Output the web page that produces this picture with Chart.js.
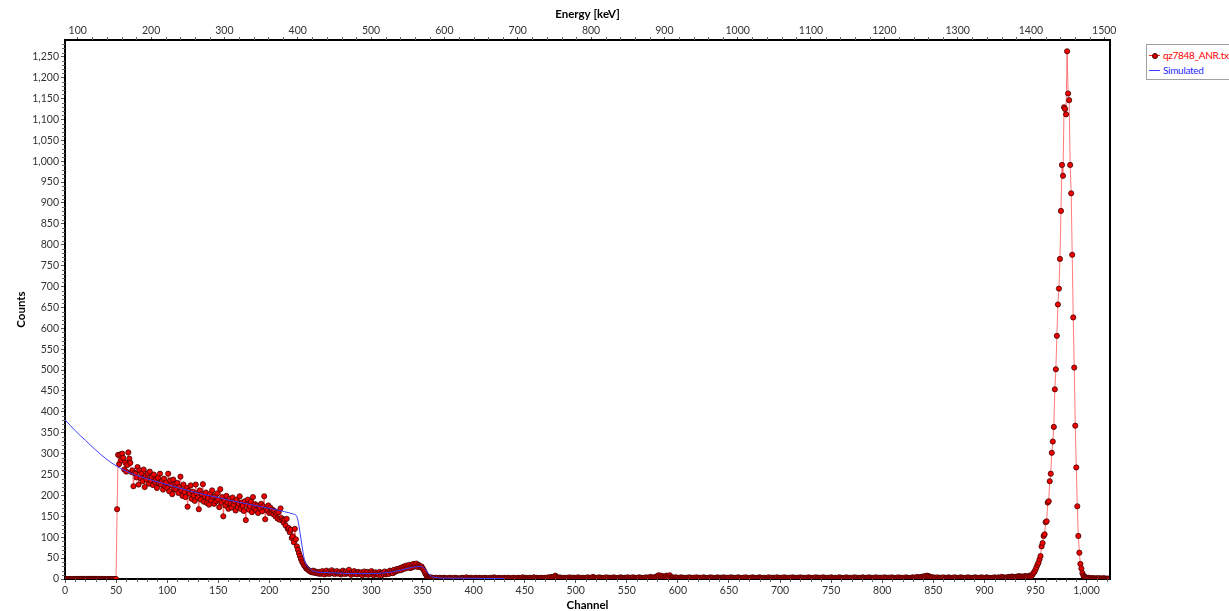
<!DOCTYPE html>
<html>
<head>
<meta charset="utf-8">
<script src="https://cdn.jsdelivr.net/npm/chart.js@4.4.1/dist/chart.umd.min.js"></script>
<style>
    body { margin: 0; background: #fff; font-family: Lato, sans-serif; }
    #wrap { position: relative; width: 1229px; height: 611px; overflow: hidden; }
    #legend { position: absolute; left: 1146px; top: 44px; width: 100px; height: 34px; border: 1px solid #a0a0a0; background: #fff; font-size: 10px; letter-spacing: -0.3px; }
    .item { position: absolute; left: 2px; height: 14px; line-height: 14px; white-space: nowrap; }
    .swatch { position: absolute; left: 0; top: 7px; width: 11px; height: 1px; }
    .dot { position: absolute; left: 3px; top: 5px; width: 4px; height: 4px; border-radius: 50%; background: #e00000; border: 1px solid #3a0000; }
    .label { position: absolute; left: 14px; top: 0; }
</style>
</head>
<body>
<div id="wrap">
    <canvas id="spectrum" width="1229" height="611"></canvas>
    <div id="legend">
        <div class="item" style="top:3px;"><div class="swatch" style="background:#ff2020;"></div><div class="dot"></div><span class="label" style="color:#ff0000;">qz7848_ANR.txt</span></div>
        <div class="item" style="top:18px;"><div class="swatch" style="background:#3c3cff;"></div><span class="label" style="color:#2828ff;">Simulated</span></div>
    </div>
</div>
<script>
const measuredCounts = [
    0, 0, 0, 0, 0, 0, 0, 0, 0, 0,
    0, 0, 0, 0, 0, 0, 0, 0, 0, 0,
    0, 0, 0, 0, 0, 0, 0, 0, 0, 0,
    0, 0, 0, 0, 0, 0, 0, 0, 0, 0,
    0, 0, 0, 0, 0, 0, 0, 0, 0, 0, 0,
    167, 297, 275, 298, 284, 300, 290, 262, 279, 257, 273, 303, 288, 278, 256, 260, 222, 254,
    252, 243, 268, 226, 260, 241, 253, 234, 262, 220, 247, 238, 253, 228, 257, 236, 244, 225, 250, 232,
    238, 218, 242, 229, 252, 226, 235, 214, 240, 222, 231, 218, 252, 210, 236, 224, 203, 238, 215, 228,
    214, 230,
    206, 220, 245, 212, 199, 226, 208, 196, 218, 173, 211, 204, 224, 192, 209, 200, 187, 226, 205, 195,
    167, 212, 190, 203, 227, 185, 198, 207, 182, 194, 178, 203, 188, 212, 196, 180, 199, 186, 205, 190,
    172, 215, 184, 196, 150, 188, 176, 199, 183, 168, 192, 180, 171, 195, 178, 186, 164, 190, 172, 181,
    198, 168, 183, 175, 163, 186, 141, 178, 190, 166, 174, 185, 160, 196, 170, 179, 165, 176, 158, 172,
    168, 180, 162, 174, 198, 143, 170, 164, 176, 158, 171, 160, 166, 155, 163, 150, 158, 145, 160, 142,
    169, 146, 140, 135, 142, 128, 144, 120, 122, 112, 118, 98, 102, 88, 120, 95, 78, 70,
    62, 55, 48, 42, 38, 33, 30, 26, 24, 22, 20, 18, 17, 16, 20, 15, 18, 14, 16, 13,
    17, 12, 15, 19, 14, 11, 16, 20, 13, 17, 12, 15, 21, 14, 18, 12, 16, 19, 13, 15,
    17, 11, 14, 20, 16, 12, 18, 13, 15, 22, 14, 10, 16, 13, 19, 12, 15, 11, 17, 14,
    12, 16, 9, 14, 18, 11, 13, 17, 10, 15, 12, 19, 14, 9, 13, 16, 11, 14, 10, 17,
    13, 9, 15, 12, 18, 11, 14, 16, 12, 20, 15, 18, 14, 22, 17, 19, 24, 20, 23, 26,
    21, 28, 24, 30, 25, 32, 27, 29, 34, 26, 31, 28, 36, 30, 33, 37, 29, 34, 31, 28,
    30, 26, 22, 17, 12, 8, 6, 4, 3, 4, 2, 3, 2, 1, 3, 2, 2, 1, 3, 2,
    2, 1, 3, 2, 1, 2, 0, 2, 3, 1, 2, 1, 2, 3, 1, 2, 1, 0, 2, 1,
    3, 2, 1, 2, 4, 1, 2, 1, 3, 2, 1, 2, 1, 3, 2, 1, 2, 3, 1, 2,
    1, 2, 3, 1, 2, 1, 2, 1, 3, 2, 1, 4, 2, 1, 2, 1, 3, 1, 2, 2,
    1, 3, 2, 1, 2, 3, 1, 2, 1, 2, 3, 1, 2, 2, 1, 3, 2, 1, 2, 4,
    2, 1, 3, 2, 1, 2, 3, 2, 1, 2, 4, 2, 1, 3, 2, 1, 2, 3, 2, 1,
    2, 3, 1, 2, 4, 2, 3, 5, 4, 3, 6, 8, 5, 3, 2, 4, 2, 3, 1, 2,
    3, 2, 1, 3, 2, 4, 2, 1, 3, 2, 3, 1, 2, 4, 2, 3, 1, 2, 3, 2,
    1, 3, 2, 4, 2, 1, 3, 2, 5, 3, 2, 1, 3, 2, 4, 2, 3, 1, 2, 3,
    2, 4, 1, 3, 2, 3, 2, 1, 4, 2, 3, 2, 1, 3, 2, 4, 3, 2, 1, 3,
    2, 3, 4, 2, 1, 3, 2, 4, 2, 3, 1, 2, 3, 4, 2, 3, 2, 1, 3, 2,
    4, 2, 3, 2, 5, 3, 4, 2, 3, 5, 4, 7, 9, 6, 8, 5, 7, 4, 6, 5,
    8, 6, 4, 9, 5, 3, 4, 2, 3, 4, 2, 3, 1, 2, 4, 3, 2, 3, 1, 2,
    3, 2, 4, 2, 3, 1, 2, 3, 2, 4, 1, 3, 2, 3, 2, 1, 4, 2, 3, 2,
    1, 3, 2, 4, 2, 3, 1, 2, 3, 2, 4, 2, 1, 3, 2, 3, 4, 2, 1, 3,
    2, 3, 1, 4, 2, 3, 2, 1, 3, 2, 4, 3, 2, 1, 2, 3, 2, 4, 1, 3,
    2, 1, 3, 2, 4, 2, 3, 1, 2, 3, 2, 4, 3, 2, 1, 3, 2, 1, 3, 2,
    4, 2, 1, 3, 2, 3, 1, 2, 4, 2, 3, 2, 1, 3, 2, 4, 2, 3, 1, 2,
    3, 2, 1, 4, 2, 3, 2, 1, 3, 2, 3, 4, 2, 1, 3, 2, 2, 3, 1, 4,
    2, 3, 1, 2, 3, 2, 4, 1, 3, 2, 3, 2, 1, 4, 2, 3, 2, 1, 3, 2,
    2, 4, 3, 1, 2, 3, 2, 1, 3, 4, 2, 3, 1, 2, 3, 2, 4, 2, 1, 3,
    2, 1, 3, 2, 4, 2, 3, 1, 2, 3, 2, 1, 4, 3, 2, 1, 3, 2, 4, 2,
    3, 1, 2, 3, 2, 4, 2, 1, 3, 2, 3, 2, 1, 4, 2, 3, 2, 3, 1, 2,
    4, 2, 3, 1, 2, 3, 2, 4, 1, 3, 2, 3, 1, 2, 4, 2, 3, 2, 1, 3,
    2, 4, 3, 2, 3, 5, 2, 4, 3, 5, 4, 6, 5, 7, 6, 8, 7, 6, 5, 4,
    3, 4, 2, 3, 2, 4, 1, 3, 2, 3, 2, 4, 1, 2, 3, 2, 4, 3, 2, 1,
    3, 2, 4, 2, 3, 1, 2, 3, 4, 2, 3, 2, 1, 3, 2, 4, 2, 3, 1, 2,
    3, 2, 4, 3, 2, 1, 3, 2, 4, 2, 3, 1, 2, 4, 3, 2, 3, 1, 2, 3,
    2, 4, 3, 2, 3, 4, 2, 3, 5, 3, 4, 2, 3, 4, 3, 5, 4, 3, 6, 5,
    3, 5, 4, 6, 5, 7, 5, 6, 4, 6, 5, 7, 6, 5, 6, 8, 6,
    7, 10, 14, 17, 22, 28, 34, 39, 47, 55, 78, 86, 103, 107, 136, 138, 183, 186,
    234, 252, 302, 329, 364, 454, 502, 582, 657, 695, 766, 881, 991, 965, 1129, 1125, 1112, 1263,
    1162, 1146, 991, 923, 776, 626, 506, 367, 267, 174, 103, 63, 36, 25, 14, 8, 6, 4, 3, 2,
    3, 2, 1, 2, 1, 2, 1, 0, 2, 1, 1, 2, 0, 1, 1, 2, 1, 0, 1, 1, 0, 1
];

// Simulated curve, sampled at the channels below
const simChannels = [0, 5, 10, 15, 20, 25, 30, 35, 40, 45, 50, 55, 60, 70, 80, 90, 100, 110, 120, 130,
    140, 150, 160, 170, 180, 190, 200, 210, 215, 220, 224, 226, 228, 230, 232, 234, 236, 239, 242, 246,
    250, 260, 270, 280, 290, 300, 310, 320, 330, 340, 348, 352, 356, 360, 365, 370, 380, 400, 430];
const simCounts = [381, 368, 355, 343, 332, 320, 309, 298, 288, 279, 271, 264, 258, 248, 240, 233, 226, 219, 212, 206,
    200, 195, 189, 184, 179, 174, 169, 164, 161, 158, 155, 153, 141, 112, 80, 50, 35, 26, 20, 17,
    16, 15, 14, 13, 13, 13, 14, 17, 22, 28, 30, 25, 12, 5, 3, 2, 2, 1.5, 1];

const countTicks = [0, 50, 100, 150, 200, 250, 300, 350, 400, 450, 500, 550, 600, 650, 700, 750, 800,
    850, 900, 950, 1000, 1050, 1100, 1150, 1200, 1250];
const channelTicks = [0, 50, 100, 150, 200, 250, 300, 350, 400, 450, 500, 550, 600, 650, 700, 750, 800,
    850, 900, 950, 1000];
const energyTicks = [100, 200, 300, 400, 500, 600, 700, 800, 900, 1000, 1100, 1200, 1300, 1400, 1500];

const channelRange = [0, 1023];
const energyRange = [82.6, 1507.8]; // energy at channel 0 and channel 1023
const countMax = 1290;

const tickFont = { family: 'Lato, sans-serif', size: 10.5 };
const titleFont = { family: 'Lato, sans-serif', size: 11.5, weight: 'bold', lineHeight: 1 };

// small unlabeled ticks between the major ones, plus the right frame line
const minorTicks = {
    id: 'minorTicks',
    afterDraw(chart) {
        const { ctx, chartArea, scales } = chart;
        ctx.save();
        ctx.strokeStyle = '#666';
        ctx.lineWidth = 1;
        ctx.beginPath();
        for (let v = 10; v < countMax; v += 10) {
            if (v % 50 === 0) continue;
            const y = Math.round(scales.y.getPixelForValue(v)) + 0.5;
            ctx.moveTo(chartArea.left - 3, y); ctx.lineTo(chartArea.left, y);
        }
        for (let v = 10; v < channelRange[1]; v += 10) {
            if (v % 50 === 0) continue;
            const x = Math.round(scales.x.getPixelForValue(v)) + 0.5;
            ctx.moveTo(x, chartArea.bottom); ctx.lineTo(x, chartArea.bottom + 3);
        }
        for (let v = 100; v < energyRange[1]; v += 20) {
            if (v % 100 === 0) continue;
            const x = Math.round(scales.x2.getPixelForValue(v)) + 0.5;
            ctx.moveTo(x, chartArea.top - 3); ctx.lineTo(x, chartArea.top);
        }
        ctx.stroke();
        ctx.strokeStyle = '#000';
        ctx.lineWidth = 2;
        ctx.beginPath();
        ctx.moveTo(chartArea.right, chartArea.top);
        ctx.lineTo(chartArea.right, chartArea.bottom);
        ctx.stroke();
        ctx.restore();
    }
};

const axisGrid = { display: true, drawOnChartArea: false, drawTicks: true, tickLength: 4, tickColor: '#555' };
const axisBorder = { display: true, color: '#000', width: 2 };

new Chart(document.getElementById('spectrum').getContext('2d'), {
    type: 'line',
    data: {
        datasets: [
            {
                label: 'Simulated',
                data: simChannels.map((ch, i) => ({ x: ch, y: simCounts[i] })),
                borderColor: '#3c3cff',
                borderWidth: 1,
                pointRadius: 0,
                cubicInterpolationMode: 'monotone',
                order: 0,
            },
            {
                label: 'qz7848_ANR.txt',
                data: measuredCounts.map((c, ch) => ({ x: ch, y: c })),
                borderColor: 'rgba(255, 50, 50, 0.65)',
                borderWidth: 1,
                pointRadius: 2.6,
                pointBackgroundColor: '#f00000',
                pointBorderColor: '#400000',
                pointBorderWidth: 0.8,
                order: 1,
            },
        ],
    },
    options: {
        responsive: false,
        animation: false,
        layout: { padding: { left: 0, right: 119, top: 0, bottom: 0 } },
        plugins: { legend: { display: false }, tooltip: { enabled: false } },
        scales: {
            x: {
                type: 'linear', position: 'bottom', min: channelRange[0], max: channelRange[1],
                afterBuildTicks: (scale) => { scale.ticks = channelTicks.map((v) => ({ value: v })); },
                afterFit: (scale) => { scale.height = 32; },
                ticks: { font: tickFont, color: '#333', padding: 1, maxRotation: 0, autoSkip: false },
                grid: axisGrid, border: axisBorder,
                title: { display: true, text: 'Channel', font: titleFont, color: '#000', padding: { top: 0, bottom: 0 } },
            },
            x2: {
                type: 'linear', position: 'top', min: energyRange[0], max: energyRange[1],
                afterBuildTicks: (scale) => { scale.ticks = energyTicks.map((v) => ({ value: v })); },
                afterFit: (scale) => { scale.height = 40; },
                ticks: { font: tickFont, color: '#333', padding: 0, maxRotation: 0, autoSkip: false, callback: (v) => String(v) },
                grid: { ...axisGrid, tickLength: 3 }, border: axisBorder,
                title: { display: true, text: 'Energy [keV]', font: titleFont, color: '#000', padding: { top: 9, bottom: 0 } },
            },
            y: {
                type: 'linear', position: 'left', min: 0, max: countMax,
                afterBuildTicks: (scale) => { scale.ticks = countTicks.map((v) => ({ value: v })); },
                afterFit: (scale) => { scale.width = 65; },
                ticks: { font: tickFont, color: '#333', padding: 2, autoSkip: false },
                grid: axisGrid, border: axisBorder,
                title: { display: true, text: 'Counts', font: titleFont, color: '#000', padding: { top: 16, bottom: 0 } },
            },
        },
    },
    plugins: [minorTicks],
});
</script>
</body>
</html>
